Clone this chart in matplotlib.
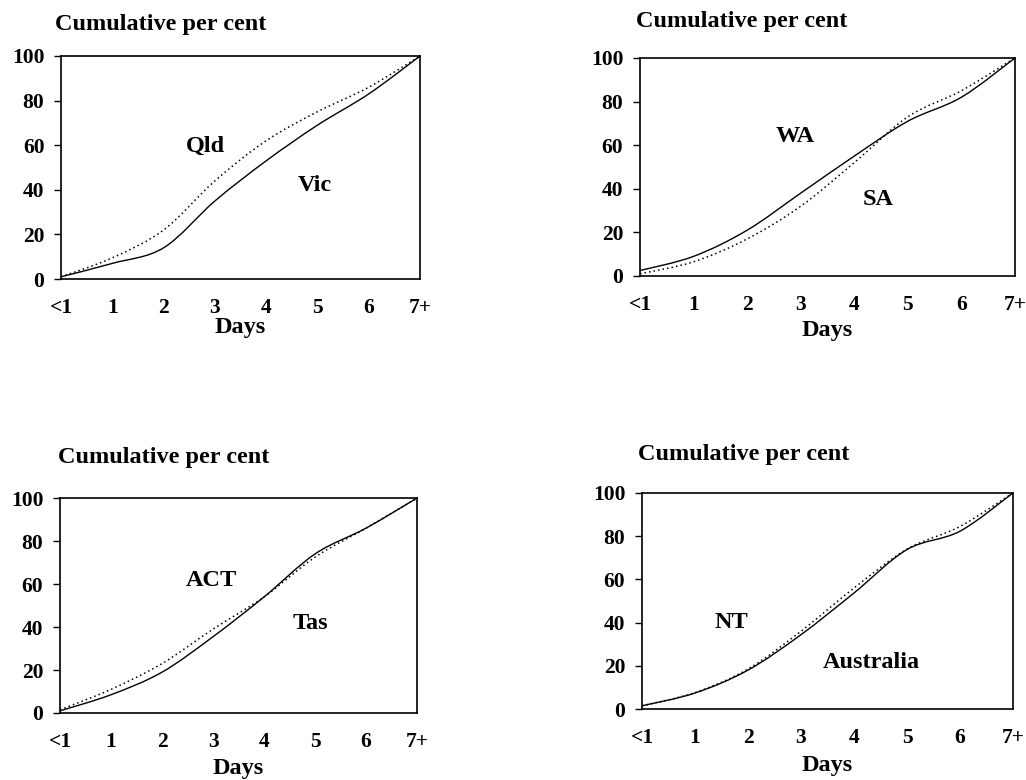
import numpy as np
from matplotlib import pyplot as plt
from matplotlib.path import Path
from matplotlib.patches import PathPatch

plt.rcParams['font.family'] = 'Liberation Serif'
plt.rcParams['font.weight'] = 'bold'
FS = 17.5      # titles, axis label, series names
TICK_FS = 15.5

DAY_LABELS = ["<1", "1", "2", "3", "4", "5", "6", "7+"]
Y_TICKS = [0, 20, 40, 60, 80, 100]

# cumulative per cent by day (solid series first, dotted second)
vic = [1, 7, 14, 35, 53, 69, 83, 100]
qld = [1, 9.5, 22, 44, 62, 75, 86, 100]
wa = [2.5, 9, 21, 38, 55, 71, 82, 100]
sa = [1, 6.5, 17, 32, 52, 73, 85, 100]
tas = [1, 8.5, 19, 35.5, 54, 74, 86, 100]
act = [1.5, 11, 23, 39, 54, 72.5, 86, 100]
aus = [1.5, 7.4, 18, 34.4, 53.7, 73.8, 82.3, 100]
nt = [1.5, 7.6, 18.5, 36, 56, 74, 84.5, 100]

# (axes rect, solid, dotted, solid label, solid label pos, dotted label, dotted label pos)
PANELS = [
    ([0.0595, 0.6423, 0.350, 0.286], vic, qld, "Vic", (4.95, 42), "Qld", (2.81, 59.5)),
    ([0.6238, 0.6462, 0.3655, 0.2795], wa, sa, "WA", (2.89, 64), "SA", (4.45, 35)),
    ([0.0585, 0.0859, 0.348, 0.2756], tas, act, "Tas", (4.9, 41.7), "ACT", (2.96, 61.8)),
    ([0.6257, 0.0910, 0.3616, 0.277], aus, nt, "Australia", (4.33, 21.3), "NT", (1.69, 40)),
]
TITLE_POS = [(0.0536, 0.968), (0.620, 0.972), (0.0565, 0.413), (0.622, 0.417)]
DAYS_Y = [0.580, 0.576, 0.015, 0.018]


def smooth_line(ax, xs, ys, **kw):
    # excel-style smoothed line: catmull-rom segments as cubic beziers
    p = np.column_stack([xs, ys]).astype(float)
    ext = np.vstack([p[0], p, p[-1]])
    verts = [p[0]]
    codes = [Path.MOVETO]
    for k in range(len(p) - 1):
        p0, p1, p2, p3 = ext[k], ext[k + 1], ext[k + 2], ext[k + 3]
        verts += [p1 + (p2 - p0) / 6, p2 - (p3 - p1) / 6, p2]
        codes += [Path.CURVE4] * 3
    ax.add_patch(PathPatch(Path(verts, codes), fill=False, **kw))


fig = plt.figure(figsize=(10.26, 7.8), dpi=100)
x = np.arange(len(DAY_LABELS))

for i, (rect, solid, dotted, sl, sp, dl, dp) in enumerate(PANELS):
    ax = fig.add_axes(rect)
    smooth_line(ax, x, solid, edgecolor='black', lw=1.0)
    smooth_line(ax, x, dotted, edgecolor='black', lw=1.1, linestyle=(0, (1, 2)))
    ax.text(sp[0], sp[1], sl, ha='center', va='center', fontsize=FS, fontweight='bold')
    ax.text(dp[0], dp[1], dl, ha='center', va='center', fontsize=FS, fontweight='bold')
    ax.set_xlim(0, 7)
    ax.set_ylim(0, 100)
    ax.set_xticks(x)
    ax.set_xticklabels(DAY_LABELS, fontsize=TICK_FS, fontweight='bold')
    ax.set_yticks(Y_TICKS)
    ax.set_yticklabels([str(v) for v in Y_TICKS], fontsize=TICK_FS, fontweight='bold')
    ax.tick_params(axis='x', length=0, pad=14)
    ax.tick_params(axis='y', length=5, width=1, direction='out', pad=7)
    for s in ax.spines.values():
        s.set_linewidth(1.2)
    fig.text(TITLE_POS[i][0], TITLE_POS[i][1], "Cumulative per cent", ha='left', va='center',
             fontsize=FS, fontweight='bold')
    fig.text(rect[0] + rect[2] / 2, DAYS_Y[i], "Days", ha='center', va='center',
             fontsize=FS, fontweight='bold')

fig.savefig("out.png", dpi=100)
